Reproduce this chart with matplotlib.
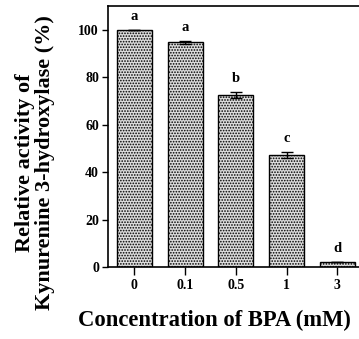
import matplotlib
matplotlib.use("Agg")
import matplotlib.pyplot as plt

plt.rcParams['hatch.linewidth'] = 0.8

concentrations = ["0", "0.1", "0.5", "1", "3"]
activity = [100.0, 94.8, 72.5, 47.3, 2.0]
errors = [0.0, 0.6, 1.3, 1.2, 0.0]
groups = ["a", "a", "b", "c", "d"]

serif = "Liberation Serif"

fig = plt.figure(figsize=(3.59, 3.39), dpi=100)
ax = fig.add_axes([0.301, 0.212, 0.699, 0.770])

x = list(range(len(concentrations)))
ax.bar(x, activity, width=0.69, color="#dcdcdc", edgecolor="black",
       linewidth=1.0, hatch="......", yerr=errors, capsize=4,
       error_kw=dict(elinewidth=1.0, capthick=1.0, ecolor="black"))

for xi, v, e, g in zip(x, activity, errors, groups):
    ax.annotate(g, (xi, v + e), xytext=(0, 5), textcoords="offset points",
                ha="center", va="bottom", fontsize=10.5, fontweight="bold",
                family=serif)

ax.set_xlim(-0.52, 4.43)
ax.set_ylim(0, 110)
ax.set_yticks([0, 20, 40, 60, 80, 100])
ax.set_xticks(x)
ax.set_xticklabels(concentrations)
ax.spines["right"].set_visible(False)
for s in ["left", "bottom", "top"]:
    ax.spines[s].set_linewidth(1.2)
ax.tick_params(axis="x", direction="out", length=5.5, width=1.0, labelsize=10, pad=3)
ax.tick_params(axis="y", direction="out", length=4.5, width=1.0, labelsize=10, pad=2)
for lbl in ax.get_xticklabels() + ax.get_yticklabels():
    lbl.set_fontfamily(serif)
    lbl.set_fontweight("bold")

fig.text(214 / 359, 1 - 320 / 339, "Concentration of BPA (mM)", fontsize=16.3,
         fontweight="bold", family=serif, ha="center", va="center")
fig.text(35 / 359, 1 - 163 / 339, "Relative activity of\nKynurenine 3-hydroxylase (%)",
         fontsize=16, fontweight="bold", family=serif, rotation=90,
         ha="center", va="center", linespacing=1.0, multialignment="center")

fig.savefig("out.png", dpi=100)
